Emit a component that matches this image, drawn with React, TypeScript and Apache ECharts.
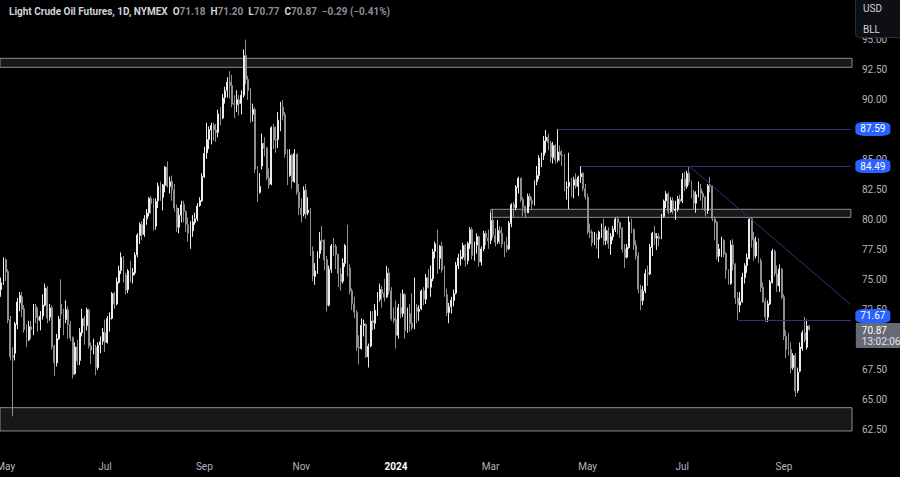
import React, { useEffect, useRef } from 'react';
import * as echarts from 'echarts';

// rows: [day, open, close, low, high]
const apr23 = [
  [27, 74.2, 74.76, 73.6, 75.2], [28, 74.8, 76.78, 74.6, 76.9],
];
const may23 = [
  [1, 76.7, 75.66, 74.9, 76.8], [2, 75.7, 71.66, 71.4, 75.9], [3, 71.7, 68.6, 68.3, 72.0], [4, 68.7, 68.56, 63.64, 69.4],
  [5, 68.9, 71.34, 68.3, 71.5], [8, 71.3, 73.16, 70.9, 73.5], [9, 73.1, 73.71, 72.4, 74.0], [10, 73.6, 72.56, 71.9, 74.0],
  [11, 72.6, 70.87, 70.6, 72.9], [12, 70.9, 70.04, 69.4, 71.3], [15, 70.0, 71.11, 69.9, 71.6], [16, 71.1, 70.86, 70.1, 71.6],
  [17, 70.9, 72.83, 70.4, 73.0], [18, 72.8, 71.86, 71.4, 73.0], [19, 71.9, 71.69, 70.7, 72.7], [22, 71.6, 71.99, 70.8, 72.4],
  [23, 72.0, 72.91, 71.7, 73.8], [24, 72.9, 74.34, 72.8, 74.7], [25, 74.3, 71.83, 71.4, 74.5], [26, 71.9, 72.67, 71.6, 73.0],
  [30, 72.7, 69.46, 69.2, 72.9], [31, 69.5, 68.09, 67.0, 69.6],
];
const jun23 = [
  [1, 68.1, 70.1, 67.8, 70.5], [2, 70.1, 71.74, 70.0, 72.0], [5, 73.0, 72.15, 71.0, 75.06], [6, 72.2, 71.74, 70.4, 72.6],
  [7, 71.7, 72.53, 71.4, 73.3], [8, 72.5, 71.29, 70.1, 72.8], [9, 71.3, 70.17, 69.9, 71.6], [12, 70.2, 67.12, 66.8, 70.3],
  [13, 67.2, 69.42, 67.1, 69.8], [14, 69.4, 68.27, 67.9, 70.0], [15, 68.3, 70.62, 67.9, 71.0], [16, 70.6, 71.78, 70.3, 72.6],
  [20, 71.8, 71.19, 69.6, 72.0], [21, 71.2, 72.53, 70.8, 72.7], [22, 72.5, 69.51, 69.3, 72.6], [23, 69.5, 69.16, 68.0, 69.8],
  [26, 69.2, 69.37, 68.8, 70.1], [27, 69.4, 67.7, 67.05, 69.6], [28, 67.7, 69.56, 67.5, 69.8], [29, 69.6, 69.86, 68.9, 70.3],
  [30, 69.9, 70.64, 69.6, 71.0],
];
const jul23 = [
  [3, 70.6, 69.79, 69.0, 71.7], [5, 69.8, 71.79, 69.7, 72.0], [6, 71.8, 71.8, 70.7, 72.3], [7, 71.8, 73.86, 71.7, 74.0],
  [10, 73.9, 72.99, 72.6, 74.0], [11, 73.0, 74.83, 72.9, 75.2], [12, 74.8, 75.75, 74.7, 76.2], [13, 75.8, 76.89, 75.5, 77.3],
  [14, 76.9, 75.42, 74.8, 77.0], [17, 75.4, 74.15, 73.8, 75.6], [18, 74.2, 75.75, 73.9, 75.9], [19, 75.7, 75.35, 74.8, 76.6],
  [20, 75.4, 75.63, 74.7, 76.0], [21, 75.6, 77.07, 75.4, 77.3], [24, 77.1, 78.74, 76.9, 78.9], [25, 78.7, 79.63, 78.0, 79.8],
  [26, 79.6, 78.78, 78.3, 79.9], [27, 78.8, 80.09, 78.6, 80.4], [28, 80.1, 80.58, 79.6, 80.9], [31, 80.6, 81.8, 80.3, 81.9],
];
const aug23 = [
  [1, 81.8, 81.37, 80.5, 82.0], [2, 81.4, 79.49, 79.1, 81.8], [3, 79.5, 81.55, 79.2, 81.8], [4, 81.6, 82.82, 81.0, 83.1],
  [7, 82.8, 81.94, 81.6, 83.2], [8, 81.9, 82.92, 80.8, 83.0], [9, 82.9, 84.4, 82.3, 84.5], [10, 84.4, 82.82, 82.7, 84.89],
  [11, 82.8, 83.19, 82.2, 83.6], [14, 83.2, 82.51, 81.6, 83.7], [15, 82.5, 80.99, 80.7, 83.0], [16, 81.0, 79.38, 79.0, 81.3],
  [17, 79.4, 80.39, 78.9, 81.0], [18, 80.4, 81.25, 79.8, 81.6], [21, 81.3, 80.72, 79.8, 81.6], [22, 80.7, 79.64, 79.0, 80.8],
  [23, 79.6, 78.89, 78.2, 80.2], [24, 78.9, 79.05, 77.6, 79.9], [25, 79.1, 79.83, 78.6, 80.4], [28, 79.8, 80.1, 79.6, 80.6],
  [29, 80.1, 81.16, 79.9, 81.4], [30, 81.2, 81.63, 81.1, 81.9], [31, 81.6, 83.63, 81.5, 83.9],
];
const sep23 = [
  [1, 83.6, 85.55, 83.5, 86.1], [5, 85.6, 86.69, 85.1, 88.1], [6, 86.7, 87.54, 85.9, 87.8], [7, 87.5, 87.87, 86.3, 88.1],
  [8, 87.9, 87.51, 86.6, 88.1], [11, 87.5, 87.29, 86.5, 88.0], [12, 87.3, 88.84, 86.9, 89.2], [13, 88.8, 88.52, 87.9, 89.4],
  [14, 88.5, 90.16, 88.4, 90.5], [15, 90.2, 90.77, 89.7, 91.1], [18, 90.8, 91.48, 90.2, 91.9], [19, 91.5, 91.2, 90.1, 92.4],
  [20, 91.2, 89.66, 89.4, 92.1], [21, 89.7, 89.63, 88.5, 90.4], [22, 89.6, 90.03, 89.0, 90.8], [25, 90.0, 89.68, 88.7, 90.4],
  [26, 89.7, 90.39, 88.8, 90.8], [27, 90.4, 93.68, 90.2, 94.2], [28, 93.7, 91.71, 91.3, 95.03], [29, 91.7, 90.79, 90.0, 92.0],
];
const oct23 = [
  [2, 90.8, 88.82, 88.1, 91.0], [3, 88.8, 89.23, 88.2, 89.7], [4, 89.2, 84.22, 83.9, 89.4], [5, 84.2, 82.31, 81.5, 84.5],
  [6, 82.3, 82.79, 82.2, 83.9], [9, 84.5, 86.38, 84.2, 87.2], [10, 86.4, 85.97, 85.3, 86.9], [11, 86.0, 83.49, 83.3, 86.1],
  [12, 83.5, 82.91, 82.6, 84.3], [13, 83.0, 87.69, 82.9, 87.8], [16, 87.7, 86.66, 85.9, 88.0], [17, 86.7, 86.66, 85.6, 87.8],
  [18, 86.7, 88.32, 86.0, 89.0], [19, 88.3, 89.37, 87.4, 89.85], [20, 89.4, 88.75, 88.3, 90.0], [23, 88.8, 85.49, 85.2, 89.0],
  [24, 85.5, 83.74, 82.9, 85.9], [25, 83.7, 85.39, 83.6, 85.9], [26, 85.4, 83.21, 82.6, 85.5], [27, 83.2, 85.54, 83.1, 85.9],
  [30, 85.5, 82.31, 82.1, 85.5], [31, 82.3, 81.02, 80.4, 83.0],
];
const nov23 = [
  [1, 81.0, 80.44, 79.8, 81.8], [2, 80.5, 82.46, 80.3, 82.8], [3, 82.5, 80.51, 80.1, 83.0], [6, 80.6, 80.82, 80.4, 81.9],
  [7, 80.8, 77.37, 77.0, 81.0], [8, 77.4, 75.33, 74.9, 77.8], [9, 75.3, 75.74, 74.6, 76.4], [10, 75.7, 77.17, 75.5, 77.4],
  [13, 77.2, 78.26, 76.8, 79.0], [14, 78.3, 78.26, 77.5, 79.5], [15, 78.3, 76.66, 75.8, 78.4], [16, 76.7, 72.9, 72.37, 77.0],
  [17, 72.9, 75.89, 72.8, 76.2], [20, 75.9, 77.83, 75.6, 78.0], [21, 77.8, 77.77, 77.0, 78.5], [22, 77.8, 77.1, 75.9, 78.0],
  [24, 77.1, 75.54, 74.4, 77.2], [27, 75.5, 74.86, 74.1, 76.0], [28, 74.9, 76.41, 74.7, 76.8], [29, 76.4, 77.86, 76.1, 78.0],
  [30, 77.9, 75.96, 75.3, 79.6],
];
const dec23 = [
  [1, 76.0, 74.07, 73.8, 76.3], [4, 74.1, 73.04, 72.5, 74.3], [5, 73.0, 72.32, 71.8, 73.6], [6, 72.3, 69.38, 69.1, 72.5],
  [7, 69.4, 69.34, 67.97, 70.4], [8, 69.3, 71.23, 69.2, 71.8], [11, 71.2, 71.32, 70.3, 71.7], [12, 71.3, 68.61, 68.5, 71.4],
  [13, 68.6, 69.47, 67.71, 69.7], [14, 69.5, 71.58, 69.4, 72.4], [15, 71.6, 71.43, 70.8, 72.4], [18, 71.4, 72.47, 70.9, 73.0],
  [19, 72.5, 73.44, 72.0, 74.0], [20, 73.4, 74.22, 73.2, 74.7], [21, 74.2, 73.89, 72.7, 74.5], [22, 73.9, 73.56, 73.2, 75.1],
  [26, 73.6, 75.57, 73.5, 76.18], [27, 75.6, 74.11, 73.8, 76.0], [28, 74.1, 71.77, 71.6, 74.4], [29, 71.8, 71.65, 71.4, 72.7],
];
const jan24 = [
  [2, 71.7, 70.38, 69.3, 73.3], [3, 70.4, 72.7, 70.1, 73.0], [4, 72.7, 72.19, 71.8, 73.9], [5, 72.2, 73.81, 71.9, 74.2],
  [8, 73.8, 70.77, 70.1, 73.9], [9, 70.8, 72.24, 70.6, 72.7], [10, 72.2, 71.37, 70.7, 73.0], [11, 71.4, 71.02, 70.8, 73.9],
  [12, 71.0, 72.68, 70.9, 75.2], [16, 72.7, 72.4, 71.4, 73.0], [17, 72.4, 72.56, 71.6, 72.9], [18, 72.6, 74.08, 72.5, 74.2],
  [19, 74.1, 73.41, 72.9, 74.4], [22, 73.4, 75.19, 73.0, 75.5], [23, 75.2, 74.37, 74.3, 75.9], [24, 74.4, 75.09, 73.6, 76.2],
  [25, 75.1, 77.36, 74.9, 77.6], [26, 77.4, 78.01, 76.8, 78.2], [29, 78.0, 76.78, 75.5, 79.2], [30, 76.8, 77.82, 75.9, 77.9],
  [31, 77.8, 75.85, 75.6, 78.2],
];
const feb24 = [
  [1, 75.9, 73.82, 73.6, 76.2], [2, 73.8, 72.28, 72.0, 74.3], [5, 72.3, 72.78, 71.4, 73.1], [6, 72.8, 73.31, 72.2, 73.6],
  [7, 73.3, 73.86, 72.8, 74.2], [8, 73.9, 76.22, 73.8, 76.5], [9, 76.2, 76.84, 75.9, 77.2], [12, 76.8, 76.92, 76.2, 77.5],
  [13, 76.9, 77.87, 76.7, 78.1], [14, 77.9, 76.64, 76.1, 78.0], [15, 76.6, 78.03, 76.3, 78.2], [16, 78.0, 79.19, 77.6, 79.4],
  [20, 79.2, 77.04, 76.7, 79.4], [21, 77.0, 77.91, 76.6, 78.2], [22, 77.9, 78.61, 77.2, 78.9], [23, 78.6, 76.49, 76.1, 78.7],
  [26, 76.5, 77.58, 76.2, 77.8], [27, 77.6, 78.87, 77.4, 79.1], [28, 78.9, 78.54, 77.9, 79.1], [29, 78.5, 78.26, 77.6, 79.2],
];
const mar24 = [
  [1, 78.3, 79.97, 78.0, 80.6], [4, 80.0, 78.74, 78.5, 80.9], [5, 78.7, 78.15, 77.8, 79.3], [6, 78.2, 79.13, 78.0, 80.0],
  [7, 79.1, 78.93, 78.0, 79.5], [8, 78.9, 78.01, 77.7, 79.4], [11, 78.0, 77.93, 76.9, 78.2], [12, 77.9, 77.56, 77.3, 78.6],
  [13, 77.6, 79.72, 77.5, 79.9], [14, 79.7, 81.26, 79.4, 81.4], [15, 81.3, 81.04, 80.2, 81.5], [18, 81.0, 82.72, 80.8, 82.9],
  [19, 82.7, 83.47, 82.2, 83.6], [20, 83.5, 81.68, 81.5, 83.5], [21, 81.7, 81.07, 80.3, 81.9], [22, 81.1, 80.63, 80.2, 81.2],
  [25, 80.6, 81.95, 80.6, 82.2], [26, 82.0, 81.62, 81.1, 82.2], [27, 81.6, 81.35, 80.8, 81.9], [28, 81.4, 83.17, 81.2, 83.3],
];
const apr24 = [
  [1, 83.2, 83.71, 82.9, 84.5], [2, 83.7, 85.15, 83.4, 85.4], [3, 85.2, 85.43, 84.4, 85.6], [4, 85.4, 86.59, 85.0, 87.0],
  [5, 86.6, 86.91, 85.6, 87.5], [8, 86.9, 86.43, 85.8, 87.2], [9, 86.4, 85.23, 84.8, 86.6], [10, 85.2, 86.21, 84.7, 86.5],
  [11, 86.2, 85.02, 84.7, 86.3], [12, 85.0, 85.66, 84.8, 87.59], [15, 85.7, 85.41, 84.9, 86.2], [16, 85.4, 85.36, 84.5, 85.8],
  [17, 85.4, 82.69, 82.4, 85.5], [18, 82.7, 82.73, 81.7, 83.2], [19, 82.8, 83.14, 80.9, 85.6], [22, 83.1, 82.85, 81.9, 83.5],
  [23, 82.9, 83.36, 81.8, 83.6], [24, 83.4, 82.81, 82.6, 83.9], [25, 82.8, 83.57, 82.0, 83.7], [26, 83.6, 83.85, 83.1, 84.49],
  [29, 83.9, 82.63, 82.4, 84.0], [30, 82.6, 81.93, 81.7, 83.0],
];
const may24 = [
  [1, 81.9, 79.0, 78.8, 82.2], [2, 79.0, 78.95, 78.5, 79.7], [3, 79.0, 78.11, 77.8, 79.2], [6, 78.1, 78.48, 77.9, 79.0],
  [7, 78.5, 78.38, 77.6, 78.9], [8, 78.4, 78.99, 76.8, 79.1], [9, 79.0, 79.26, 78.5, 79.7], [10, 79.3, 78.26, 77.9, 80.1],
  [13, 78.3, 79.12, 77.9, 79.5], [14, 79.1, 78.02, 77.6, 79.4], [15, 78.0, 78.63, 77.1, 78.9], [16, 78.6, 79.23, 78.3, 79.5],
  [17, 79.2, 80.06, 79.0, 80.2], [20, 80.1, 79.8, 78.8, 80.3], [21, 79.8, 79.26, 78.5, 79.8], [22, 79.3, 77.57, 77.3, 79.4],
  [23, 77.6, 76.87, 76.0, 78.0], [24, 76.9, 77.72, 76.8, 78.0], [28, 77.7, 79.83, 77.6, 80.3], [29, 79.8, 79.23, 78.9, 80.1],
  [30, 79.2, 77.91, 77.5, 79.3], [31, 77.9, 76.99, 76.7, 78.3],
];
const jun24 = [
  [3, 77.0, 74.22, 73.9, 77.3], [4, 74.2, 73.25, 72.48, 74.6], [5, 73.3, 74.07, 72.9, 74.5], [6, 74.1, 75.55, 73.9, 75.9],
  [7, 75.6, 75.53, 74.5, 76.2], [10, 75.5, 77.74, 75.4, 78.0], [11, 77.7, 78.9, 77.0, 79.0], [12, 78.9, 78.5, 77.9, 79.5],
  [13, 78.5, 78.62, 77.5, 78.9], [14, 78.6, 78.45, 77.8, 78.9], [17, 78.5, 80.33, 78.4, 80.5], [18, 80.3, 81.57, 80.2, 81.7],
  [20, 81.6, 82.17, 81.0, 82.4], [21, 82.2, 80.73, 80.5, 82.3], [24, 80.7, 81.63, 80.6, 81.9], [25, 81.6, 80.83, 80.5, 81.9],
  [26, 80.8, 80.9, 80.0, 81.6], [27, 80.9, 81.74, 80.7, 82.0], [28, 81.7, 81.54, 81.3, 82.1],
];
const jul24 = [
  [1, 81.6, 83.38, 81.4, 83.9], [2, 83.4, 82.81, 82.4, 84.0], [3, 82.8, 83.88, 82.6, 84.1], [5, 83.9, 83.16, 82.9, 84.49],
  [8, 83.2, 82.33, 81.8, 83.3], [9, 82.3, 81.41, 80.9, 82.5], [10, 81.4, 82.1, 80.6, 82.4], [11, 82.1, 82.62, 81.9, 83.2],
  [12, 82.6, 82.21, 81.6, 83.0], [15, 82.2, 81.91, 80.9, 82.4], [16, 81.9, 80.76, 80.3, 82.0], [17, 80.8, 82.85, 80.5, 83.0],
  [18, 82.9, 82.82, 82.3, 83.6], [19, 82.8, 80.13, 79.9, 82.9], [22, 80.1, 79.78, 78.3, 80.3], [23, 79.8, 76.96, 76.7, 79.9],
  [24, 77.0, 77.59, 76.5, 78.0], [25, 77.6, 78.28, 76.9, 78.6], [26, 78.3, 77.16, 76.9, 78.4], [29, 77.2, 75.81, 75.1, 77.3],
  [30, 75.8, 74.73, 74.6, 75.9], [31, 74.7, 77.91, 74.6, 78.3],
];
const aug24 = [
  [1, 77.9, 76.31, 75.8, 78.4], [2, 76.3, 73.52, 73.0, 76.4], [5, 73.5, 72.94, 71.67, 74.0], [6, 72.9, 73.2, 72.3, 74.0],
  [7, 73.2, 75.23, 73.1, 75.6], [8, 75.2, 76.19, 74.7, 76.4], [9, 76.2, 76.84, 75.6, 77.2], [12, 76.8, 80.06, 76.7, 80.2],
  [13, 80.1, 78.35, 77.7, 80.2], [14, 78.4, 76.98, 76.6, 79.0], [15, 77.0, 78.16, 76.8, 78.6], [16, 78.2, 76.65, 76.4, 78.5],
  [19, 76.6, 74.37, 74.0, 76.8], [20, 74.4, 73.17, 73.1, 74.8], [21, 73.2, 71.93, 71.5, 73.5], [22, 71.9, 73.01, 71.5, 73.3],
  [23, 73.0, 74.83, 72.9, 75.0], [26, 74.8, 77.42, 74.7, 77.6], [27, 77.4, 75.53, 75.3, 77.5], [28, 75.5, 74.52, 74.0, 76.2],
  [29, 74.5, 75.91, 74.0, 76.3], [30, 75.9, 73.55, 73.4, 76.0],
];
const sep24 = [
  [3, 73.6, 70.34, 70.0, 73.8], [4, 70.3, 69.2, 68.5, 70.8], [5, 69.2, 69.15, 68.7, 70.6], [6, 69.2, 67.67, 67.2, 69.8],
  [9, 67.7, 68.71, 67.5, 68.9], [10, 68.7, 65.75, 65.27, 68.9], [11, 65.8, 67.31, 65.6, 67.7], [12, 67.4, 69.4, 67.3, 69.8],
  [13, 69.3, 70.6, 69.1, 70.8], [16, 70.6, 70.0, 69.8, 71.94], [17, 69.4, 71.16, 69.2, 71.7], [18, 71.18, 70.87, 70.77, 71.2],
];

const monthBlocks = [
  { year: 2023, month: 4, rows: apr23 }, { year: 2023, month: 5, rows: may23 }, { year: 2023, month: 6, rows: jun23 },
  { year: 2023, month: 7, rows: jul23 }, { year: 2023, month: 8, rows: aug23 }, { year: 2023, month: 9, rows: sep23 },
  { year: 2023, month: 10, rows: oct23 }, { year: 2023, month: 11, rows: nov23 }, { year: 2023, month: 12, rows: dec23 },
  { year: 2024, month: 1, rows: jan24 }, { year: 2024, month: 2, rows: feb24 }, { year: 2024, month: 3, rows: mar24 },
  { year: 2024, month: 4, rows: apr24 }, { year: 2024, month: 5, rows: may24 }, { year: 2024, month: 6, rows: jun24 },
  { year: 2024, month: 7, rows: jul24 }, { year: 2024, month: 8, rows: aug24 }, { year: 2024, month: 9, rows: sep24 },
];

const monthAbbr = ['Jan', 'Feb', 'Mar', 'Apr', 'May', 'Jun', 'Jul', 'Aug', 'Sep', 'Oct', 'Nov', 'Dec'];
const labelledMonths = [1, 3, 5, 7, 9, 11];
const emptyBarsRight = 18;

// price scale (ticks every 2.5 counted from priceMin)
const priceMin = 60;
const priceMax = 98.33;
const priceStep = 2.5;
const hiddenTicks = [60, 70, 97.5];

// support / resistance zones
const fullZones = [
  { top: 93.47, bottom: 92.72 },
  { top: 64.36, bottom: 62.42 },
];
const partialZones = [{ from: '2024-03-01', top: 80.89, bottom: 80.22 }];
// horizontal rays
const levels = [
  { from: '2024-04-12', price: 87.59 },
  { from: '2024-04-26', price: 84.49 },
  { from: '2024-08-05', price: 71.67 },
];
// trendline anchors
const trendStart = { date: '2024-07-05', price: 84.49 };
const trendTouch = { date: '2024-08-12', price: 80.2 };
const countdown = '13:02:06';

const pad2 = (n: number) => (n < 10 ? '0' + n : '' + n);

const dates: string[] = [];
const candles: number[][] = [];
monthBlocks.forEach((b) => {
  b.rows.forEach((r) => {
    dates.push(`${b.year}-${pad2(b.month)}-${pad2(r[0])}`);
    candles.push([r[1], r[2], r[3], r[4]]);
  });
});
const categories = dates.slice();
for (let i = 1; i <= emptyBarsRight; i++) categories.push('pad' + i);
const lastIdx = categories.length - 1;

const labelIdx = new Set<number>();
for (let i = 1; i < dates.length; i++) {
  const m = +dates[i].slice(5, 7);
  if (m !== +dates[i - 1].slice(5, 7) && labelledMonths.includes(m)) labelIdx.add(i);
}

const last = candles[candles.length - 1];
const prevClose = candles[candles.length - 2][1];
const change = last[1] - prevClose;
const changePct = (change / prevClose) * 100;
const fmtSigned = (v: number) => (v < 0 ? '\u2212' : '+') + Math.abs(v).toFixed(2);

const idxA = dates.indexOf(trendStart.date);
const idxB = dates.indexOf(trendTouch.date);
const trendEnd = trendStart.price + ((trendTouch.price - trendStart.price) * (lastIdx - idxA)) / (idxB - idxA);

const FONT = 'Roboto, "Liberation Sans", sans-serif';
const AXIS_TEXT = '#b2b5be';
const UP = '#ececec';
const DOWN = '#8f8f8f';
const RAY = '#28347f';
const TAG_BLUE = '#2962ff';

const tag = (price: number, dy: number) => ({
  coord: [lastIdx, price],
  value: price,
  symbol: 'roundRect',
  symbolSize: [35, 14],
  symbolOffset: [22, dy],
  itemStyle: { color: TAG_BLUE },
  label: {
    show: true,
    position: 'inside',
    color: '#ffffff',
    fontSize: 10,
    fontFamily: FONT,
    formatter: price.toFixed(2),
  },
});

const option: any = {
  animation: false,
  backgroundColor: '#000000',
  title: {
    left: 4,
    top: 1,
    text:
      `{n|Light Crude Oil Futures, 1D, NYMEX}  {k|O}{v|${last[0].toFixed(2)}}  {k|H}{v|${last[3].toFixed(2)}}  ` +
      `{k|L}{v|${last[2].toFixed(2)}}  {k|C}{v|${last[1].toFixed(2)}}  {v|${fmtSigned(change)} (${fmtSigned(changePct)}%)}`,
    textStyle: {
      fontSize: 10,
      fontFamily: FONT,
      rich: {
        n: { color: '#d1d4dc', fontSize: 10, fontFamily: FONT },
        k: { color: '#d1d4dc', fontSize: 10, fontFamily: FONT },
        v: { color: '#8a8d96', fontSize: 10, fontFamily: FONT },
      },
    },
  },
  grid: { left: 0, right: 48, top: 0, bottom: 17, containLabel: false, outerBoundsMode: 'none' },
  xAxis: {
    type: 'category',
    data: categories,
    boundaryGap: true,
    axisLine: { show: false },
    axisTick: { show: false },
    splitLine: { show: false },
    axisLabel: {
      interval: (index: number) => labelIdx.has(index),
      margin: 1,
      color: AXIS_TEXT,
      fontSize: 10,
      fontFamily: FONT,
      formatter: (value: string) => {
        if (value.startsWith('pad')) return '';
        const y = value.slice(0, 4);
        const m = +value.slice(5, 7);
        return m === 1 ? `{y|${y}}` : monthAbbr[m - 1];
      },
      rich: { y: { color: '#ffffff', fontWeight: 'bold', fontSize: 10, fontFamily: FONT } },
    },
  },
  yAxis: {
    type: 'value',
    position: 'right',
    min: priceMin,
    max: priceMax,
    interval: priceStep,
    axisLine: { show: false },
    axisTick: { show: false },
    splitLine: { show: false },
    axisLabel: {
      margin: 10,
      color: AXIS_TEXT,
      fontSize: 10,
      fontFamily: FONT,
      showMaxLabel: false,
      formatter: (v: number) =>
        v > priceMax - 0.5 || hiddenTicks.some((h) => Math.abs(h - v) < 1e-6) ? '' : v.toFixed(2),
    },
  },
  series: [
    {
      type: 'candlestick',
      data: candles,
      barWidth: '60%',
      clip: false,
      silent: true,
      itemStyle: { color: UP, color0: DOWN, borderColor: UP, borderColor0: DOWN, borderWidth: 1 },
      markArea: {
        silent: true,
        label: { show: false },
        itemStyle: { color: '#18181a', borderColor: '#8c8c8c', borderWidth: 1 },
        data: [
          ...fullZones.map((z) => [{ yAxis: z.top }, { yAxis: z.bottom }]),
          ...partialZones.map((z) => [{ coord: [z.from, z.top] }, { coord: [lastIdx, z.bottom] }]),
        ],
      },
      markLine: {
        silent: true,
        symbol: ['none', 'none'],
        label: { show: false },
        lineStyle: { color: RAY, width: 1, type: 'solid' },
        data: [
          ...levels.map((l) => [{ coord: [l.from, l.price] }, { coord: [lastIdx, l.price] }]),
          [{ coord: [trendStart.date, trendStart.price] }, { coord: [lastIdx, trendEnd] }],
        ],
      },
      markPoint: {
        silent: true,
        data: [
          tag(levels[0].price, 0),
          tag(levels[1].price, 0),
          tag(levels[2].price, -4),
          {
            coord: [lastIdx, last[1]],
            value: last[1],
            symbol: 'rect',
            symbolSize: [46, 25],
            symbolOffset: [28, 6],
            itemStyle: { color: '#676a75' },
            label: {
              show: true,
              position: 'insideLeft',
              distance: 6,
              formatter: `{p|${last[1].toFixed(2)}}\n{t|${countdown}}`,
              rich: {
                p: { color: '#ffffff', fontSize: 10, fontFamily: FONT, lineHeight: 11 },
                t: { color: '#e0e3eb', fontSize: 10, fontFamily: FONT, lineHeight: 11 },
              },
            },
          },
        ],
      },
    },
  ],
  graphic: [
    {
      type: 'rect',
      left: 855,
      top: -1,
      z: 100,
      shape: { x: 0, y: 0, width: 47, height: 38, r: [0, 0, 0, 4] },
      style: { fill: '#0d0f14', stroke: '#2a2e39', lineWidth: 1 },
    },
    { type: 'text', left: 863, top: 3, z: 101, style: { text: 'USD', fill: '#d1d4dc', font: `10px ${FONT}` } },
    { type: 'text', left: 863, top: 24, z: 101, style: { text: 'BLL', fill: '#d1d4dc', font: `10px ${FONT}` } },
  ],
};

export default function App() {
  const ref = useRef<HTMLDivElement>(null);
  useEffect(() => {
    if (!ref.current) return;
    const chart = echarts.init(ref.current, null, { renderer: 'svg' });
    chart.setOption(option);
    return () => chart.dispose();
  }, []);
  return (
    <div
      ref={ref}
      style={{ position: 'fixed', left: 0, top: 0, width: 900, height: 477, background: '#000' }}
    />
  );
}
